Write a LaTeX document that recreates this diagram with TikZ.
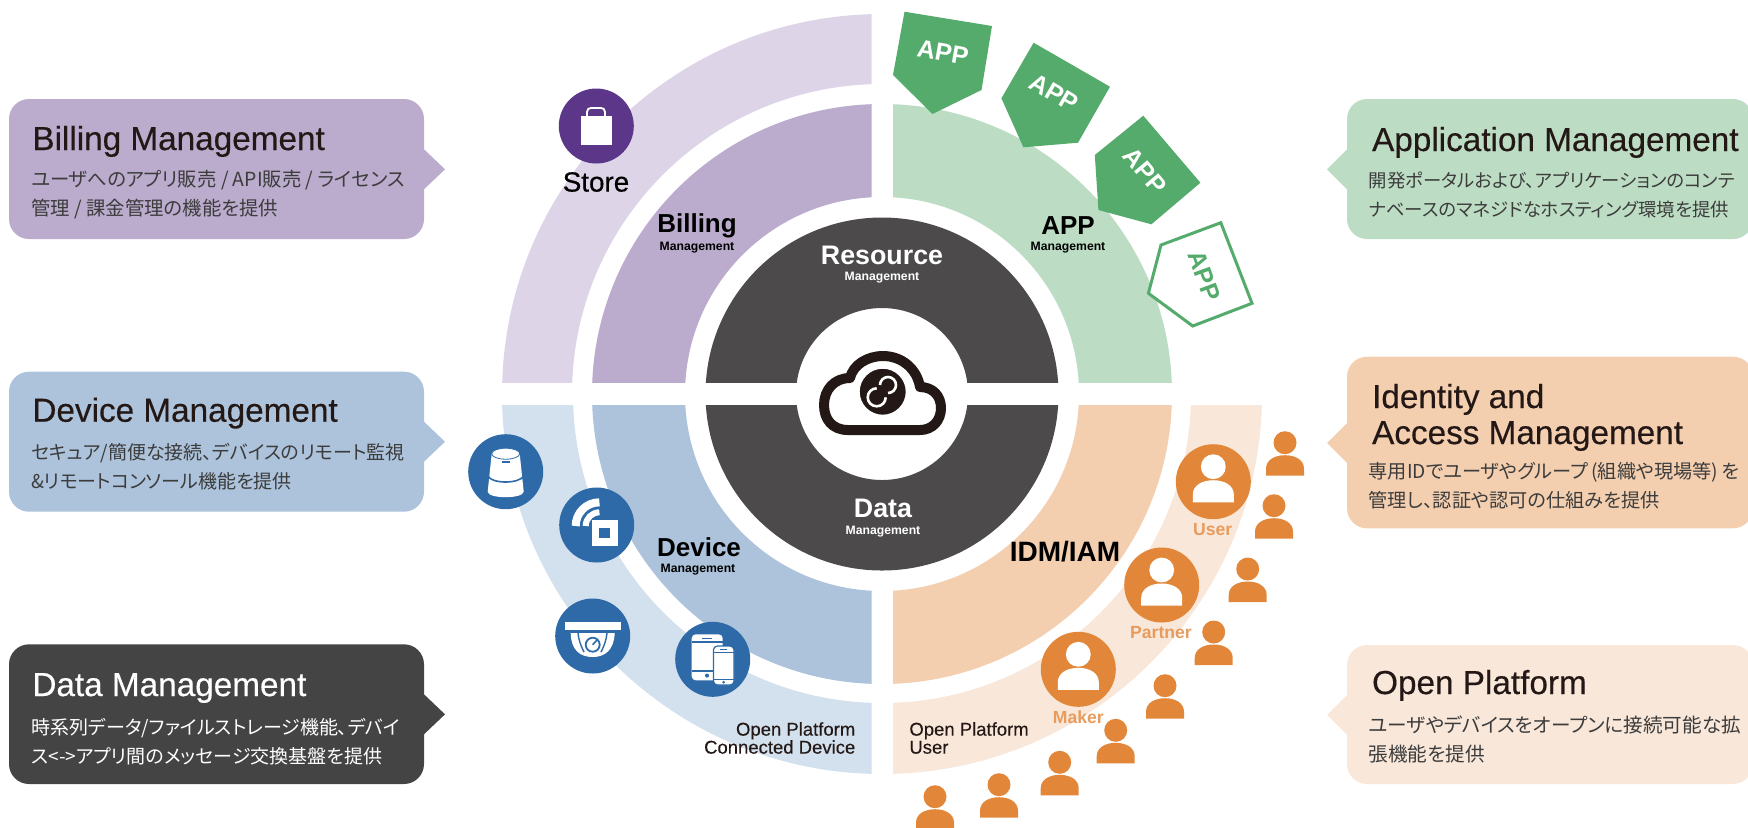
\documentclass[tikz,border=0pt]{standalone}
\usepackage{fontspec}
\setmainfont{Liberation Sans}
\newfontfamily\jpfont[RawFeature=+palt]{Noto Sans CJK JP}
\newfontfamily\titlefont[FakeBold=0.35]{Liberation Sans}
\newfontfamily\mediumfont[FakeBold=0.2]{Liberation Sans}

\definecolor{BillingLight}{HTML}{DDD5E7}
\definecolor{BillingFill}{HTML}{BBABCD}
\definecolor{StoreIcon}{HTML}{5B3689}
\definecolor{AppFill}{HTML}{BCDDC4}
\definecolor{AppTag}{HTML}{55AB6C}
\definecolor{DeviceLight}{HTML}{D3E0ED}
\definecolor{DeviceFill}{HTML}{ACC3DB}
\definecolor{DeviceIcon}{HTML}{2E6AA8}
\definecolor{UserLight}{HTML}{F9E8DA}
\definecolor{UserFill}{HTML}{F3CFB0}
\definecolor{UserIcon}{HTML}{E2873A}
\definecolor{UserText}{HTML}{E79C5E}
\definecolor{CoreFill}{HTML}{4C4A4B}
\definecolor{DataBox}{HTML}{444444}
\definecolor{CloudInk}{HTML}{231815}
\definecolor{DescInk}{HTML}{3C3C3C}

\tikzset{
  BoxTitle/.style={anchor=base west,inner sep=0pt,text=CloudInk,font=\titlefont\fontsize{16.65}{19}\selectfont},
  BoxDesc/.style={anchor=west,inner sep=0pt,align=left,text=DescInk,font=\jpfont\fontsize{#1}{14.4}\selectfont},
  BandName/.style={inner sep=0pt,font=\bfseries\fontsize{13}{15}\selectfont},
  BandSub/.style={inner sep=0pt,font=\bfseries\fontsize{6.1}{7}\selectfont},
  TagText/.style={inner sep=0pt,font=\bfseries\fontsize{12.5}{14}\selectfont},
  OpenText/.style={inner sep=0pt,text=CloudInk,font=\mediumfont\fontsize{9.25}{9}\selectfont},
  RoleText/.style={inner sep=0pt,text=UserText,font=\bfseries\fontsize{8.8}{10}\selectfont},
  person/.pic={
    \fill[pic actions] (0,0) circle[radius=11.5];
    \fill[pic actions] (-19,33) -- (-19,26) .. controls (-19,17) and (-10,12.5) .. (0,12.5)
      .. controls (10,12.5) and (19,17) .. (19,26) -- (19,33) -- cycle;
  },
}

% banda recortada por un rectangulo
\newcommand{\RingPart}[7]{%
  \begin{scope}
    \clip (#2,#3) rectangle (#4,#5);
    \fill[#1,even odd rule] (O) circle[radius=#7] (O) circle[radius=#6];
  \end{scope}}
\newcommand{\LeftBox}[4]{%
  \fill[#1,rounded corners=10pt] (9,#2) rectangle (424,#3);
  \fill[#1] (424,#4-20) -- (445,#4) -- (424,#4+20) -- cycle;}
\newcommand{\RightBox}[4]{%
  \fill[#1,rounded corners=10pt] (1347,#2) rectangle (1753,#3);
  \fill[#1] (1347,#4-20) -- (1327,#4) -- (1347,#4+20) -- cycle;}

\begin{document}
\begin{tikzpicture}[x=0.5pt,y=-0.5pt]

\clip (0,0) rectangle (1748,827);
\coordinate (O) at (882,394);

% Bandas
\RingPart{BillingLight}{400}{0}{871.5}{382}{310}{380}
\RingPart{BillingFill}{400}{0}{871.5}{382}{197}{290}
\RingPart{AppFill}{893}{0}{1300}{382}{197}{290}
\RingPart{DeviceLight}{400}{405}{871.5}{800}{309}{380}
\RingPart{DeviceFill}{400}{405}{871.5}{800}{197}{290}
\RingPart{UserLight}{893}{405}{1300}{800}{309}{380}
\RingPart{UserFill}{893}{405}{1300}{800}{197}{290}
\RingPart{CoreFill}{600}{0}{1170}{382}{86}{176.5}
\RingPart{CoreFill}{600}{405}{1170}{800}{86}{176.5}

% Nube central
\draw[CloudInk,line width=5pt,line join=round]
  (848,430) .. controls (832,430) and (824,419) .. (824,405)
  .. controls (824,390) and (834,378) .. (850,378)
  .. controls (853,365) and (867,356) .. (883,356)
  .. controls (902,356) and (917,369) .. (920,387)
  .. controls (933,387) and (941,396) .. (941,408)
  .. controls (941,421) and (932,430) .. (920,430) -- cycle;
\fill[CloudInk,draw=white,line width=1pt] (882.7,391.7) circle[radius=24];
\draw[white,line width=1.3pt] (885.7,397.3) arc[start angle=0,end angle=270,radius=9];
\draw[white,line width=1.3pt] (880,385) arc[start angle=180,end angle=450,radius=8];

% Etiquetas APP
\fill[AppTag] (904.5,11.7) -- (992,26) -- (981.5,90) -- (932.5,114) -- (893,75) -- cycle;
\fill[AppTag] (1033.6,42.7) -- (1110,86.7) -- (1078,142.7) -- (1023.4,147.3) -- (1001.4,98.3) -- cycle;
\fill[AppTag] (1143.3,115.7) -- (1200.4,182.7) -- (1151.4,224.3) -- (1098.4,210) -- (1094.8,155) -- cycle;
\filldraw[fill=white,draw=AppTag,line width=1.5pt] (1220.8,222.7) -- (1252,303.3) -- (1192.7,326) -- (1148.4,293.3) -- (1161,245) -- cycle;
\node[TagText,text=white,rotate=-10] (tagOne) at (943,52) {APP};
\node[TagText,text=white,rotate=-30] (tagTwo) at (1054,92.7) {APP};
\node[TagText,text=white,rotate=-50] (tagThree) at (1144.8,170.7) {APP};
\node[TagText,text=AppTag,rotate=-70] (tagFour) at (1204.5,276) {APP};

% Tienda
\fill[StoreIcon] (596.3,126) circle[radius=37.5];
\fill[white] (581,116) rectangle (611.6,145);
\draw[white,line width=0.9pt] (587,116) -- (587,112) .. controls (587,109) and (589,108) .. (591,108)
  -- (601,108) .. controls (603,108) and (605,109) .. (605,112) -- (605,116);
\node[BandName,font=\titlefont\fontsize{13.9}{15}\selectfont] (storeLabel) at (596,182) {Store};

% Iconos de dispositivos
\fill[DeviceIcon] (505.7,471.7) circle[radius=37.5];
\fill[white] (491.7,453.7) -- (487.7,491.7) .. controls (488,499) and (523,499) .. (523.7,491.7) -- (519.7,453.7) -- cycle;
\fill[white,draw=DeviceIcon,line width=0.4pt] (505.7,453.7) circle[x radius=14,y radius=5.5];
\draw[DeviceIcon,line width=0.8pt] (487.7,476) .. controls (492,484) and (519,484) .. (523.7,476);
\fill[DeviceIcon] (502,461) rectangle (509.5,462.5);

\fill[DeviceIcon] (596.7,525) circle[radius=37.5];
\fill[white] (592.4,520) rectangle (617.7,546.3);
\fill[DeviceIcon] (599.4,527.7) rectangle (610,538.3);
\draw[white,line width=4pt] (575.7,526) arc[start angle=180,end angle=270,radius=23.7];
\draw[white,line width=3pt] (585.7,526) arc[start angle=180,end angle=270,radius=13.7];

\fill[DeviceIcon] (592.7,636) circle[radius=37.5];
\fill[white] (564.7,622) rectangle (620.7,629.7);
\fill[white] (570.7,633) -- (614.7,633) .. controls (614,650) and (605,657) .. (592.7,657)
  .. controls (580,657) and (571,650) .. (570.7,633) -- cycle;
\draw[DeviceIcon,line width=0.7pt] (578,633) .. controls (579,642) and (582,648) .. (584,652);
\draw[DeviceIcon,line width=0.7pt] (607,633) .. controls (606,642) and (603,648) .. (601,652);
\draw[DeviceIcon,line width=0.9pt] (592.7,644.7) circle[radius=7];
\draw[DeviceIcon,line width=0.8pt] (592.7,644.7) -- (597,640);

\fill[DeviceIcon] (712.7,659.3) circle[radius=37.5];
\fill[white,rounded corners=2pt] (691.7,634.3) rectangle (722.7,680.3);
\draw[DeviceIcon,line width=0.6pt] (691.7,642) -- (722.7,642) (691.7,671) -- (722.7,671);
\fill[DeviceIcon] (702,637.5) rectangle (712,638.7);
\fill[DeviceIcon] (707,675.6) circle[radius=2];
\fill[white,draw=DeviceIcon,line width=0.6pt,rounded corners=2pt] (713.4,646) rectangle (734,685);
\draw[DeviceIcon,line width=0.6pt] (713.4,652.7) -- (734,652.7) (713.4,679.3) -- (734,679.3);
\fill[DeviceIcon] (720,648.7) rectangle (727,649.8);
\fill[DeviceIcon] (723.7,682.2) circle[radius=1.5];

% Usuarios
\fill[UserIcon] (1213.3,481.7) circle[radius=37.5];
\fill[UserIcon] (1161.7,585) circle[radius=37.5];
\fill[UserIcon] (1078.3,669.3) circle[radius=37.5];
\pic[fill=white,scale=1.08] (iconUser) at (1213.3,466.7) {person};
\pic[fill=white,scale=1.08] (iconPartner) at (1161.7,570) {person};
\pic[fill=white,scale=1.08] (iconMaker) at (1078.3,654.3) {person};
\node[RoleText] (roleUser) at (1212.7,530) {User};
\node[RoleText] (rolePartner) at (1161,633) {Partner};
\node[RoleText] (roleMaker) at (1078.3,717.3) {Maker};

\pic[fill=UserIcon] (userA) at (1285,442.7) {person};
\pic[fill=UserIcon] (userB) at (1274,505.7) {person};
\pic[fill=UserIcon] (userC) at (1247.7,569) {person};
\pic[fill=UserIcon] (userD) at (1213.7,632) {person};
\pic[fill=UserIcon] (userE) at (1165,685.7) {person};
\pic[fill=UserIcon] (userF) at (1115.7,730.3) {person};
\pic[fill=UserIcon] (userG) at (1059.7,762.3) {person};
\pic[fill=UserIcon] (userH) at (999,784.7) {person};
\pic[fill=UserIcon] (userI) at (935,796.7) {person};

% Textos de las bandas
\node[BandName] (billingName) at (697,226) {Billing};
\node[BandSub] (billingSub) at (697,248) {Management};
\node[BandName,text=white,font=\bfseries\fontsize{13.4}{15}\selectfont] (resourceName) at (882,255) {Resource};
\node[BandSub,text=white] (resourceSub) at (882,278) {Management};
\node[BandName] (appName) at (1068,226) {APP};
\node[BandSub] (appSub) at (1068,248) {Management};
\node[BandName] (deviceName) at (699,547) {Device};
\node[BandSub] (deviceSub) at (698,570) {Management};
\node[BandName,text=white,font=\bfseries\fontsize{13.4}{15}\selectfont] (dataName) at (883,508) {Data};
\node[BandSub,text=white] (dataSub) at (883,532) {Management};
\node[BandName,font=\bfseries\fontsize{14}{16}\selectfont] (idmName) at (1065,552) {IDM/IAM};
\node[OpenText,anchor=east,align=right] (openDevice) at (855.7,738) {Open Platform\\Connected Device};
\node[OpenText,anchor=west,align=left] (openUser) at (909,738) {Open Platform\\User};

% Recuadros izquierdos
\LeftBox{BillingFill}{99}{239}{169.3}
\LeftBox{DeviceFill}{371.7}{511.7}{441.7}
\LeftBox{DataBox}{644.3}{784}{714.3}
\node[BoxTitle] (billingTitle) at (32,150) {Billing Management};
\node[BoxDesc=9.7] (billingDesc) at (31,194.3) {ユーザへのアプリ販売 / API販売 / ライセンス\\管理 / 課金管理の機能を提供};
\node[BoxTitle] (deviceTitle) at (32,421.7) {Device Management};
\node[BoxDesc=9.5] (deviceDesc) at (31,466.5) {セキュア/簡便な接続、デバイスのリモート監視\\\&リモートコンソール機能を提供};
\node[BoxTitle,text=white] (dataTitle) at (32,696) {Data Management};
\node[BoxDesc=9.5,text=white] (dataDesc) at (31,741.7) {時系列データ/ファイルストレージ機能、デバイ\\ス<->アプリ間のメッセージ交換基盤を提供};

% Recuadros derechos
\RightBox{AppFill}{99}{239}{169.3}
\RightBox{UserFill}{356.7}{528.3}{443}
\RightBox{UserLight}{645}{784}{715}
\node[BoxTitle] (appTitle) at (1371.7,151) {Application Management};
\node[BoxDesc=9.2] (appDesc) at (1368.3,195) {開発ポータルおよび、アプリケーションのコンテ\\ナベースのマネジドなホスティング環境を提供};
\node[BoxTitle] (idTitle) at (1371.7,408) {Identity and};
\node[BoxTitle] (idTitleTwo) at (1371.7,444) {Access Management};
\node[BoxDesc=9.6] (idDesc) at (1368.3,485.5) {専用IDでユーザやグループ\,(組織や現場等)\,を\\管理し、認証や認可の仕組みを提供};
\node[BoxTitle] (openTitle) at (1371.7,694) {Open Platform};
\node[BoxDesc=9.8] (openDesc) at (1368.3,739.5) {ユーザやデバイスをオープンに接続可能な拡\\張機能を提供};

\end{tikzpicture}
\end{document}
